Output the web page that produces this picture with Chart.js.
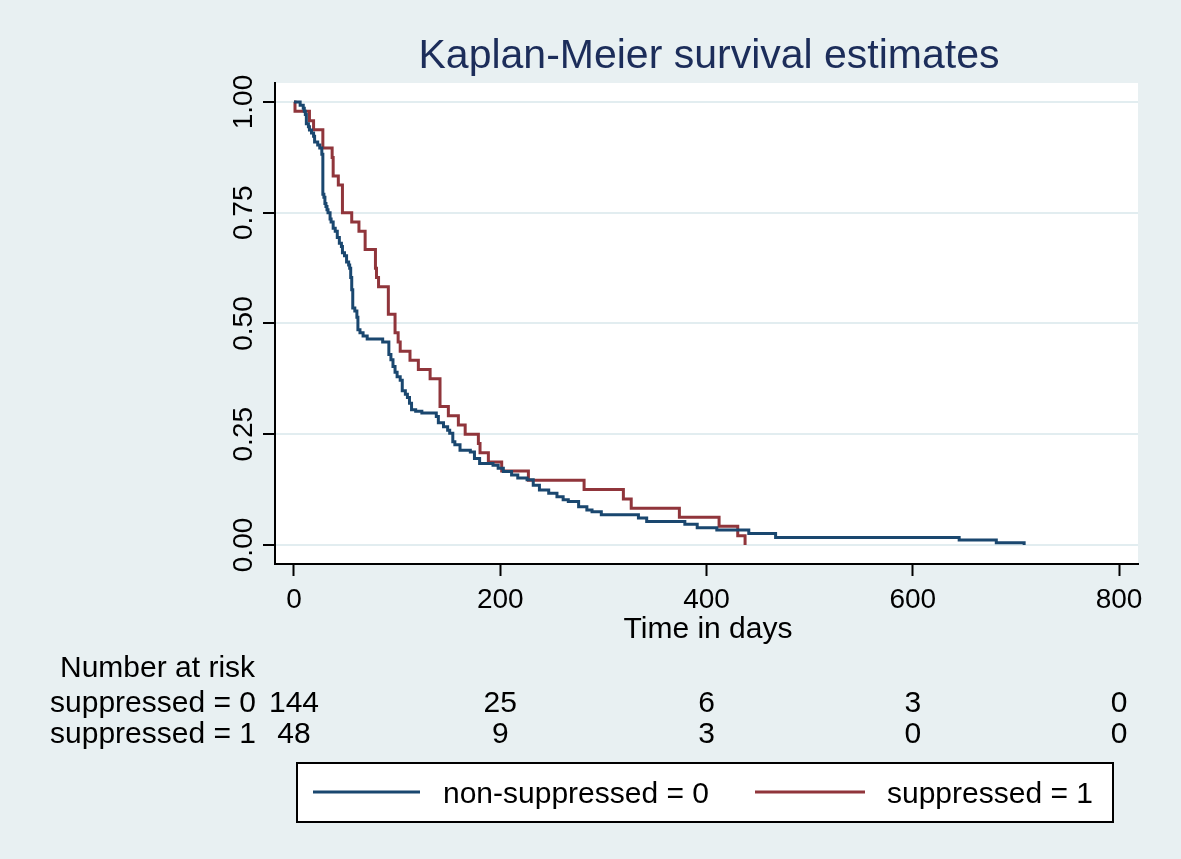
<!DOCTYPE html>
<html>
<head>
<meta charset="utf-8">
<script src="https://cdn.jsdelivr.net/npm/chart.js@4"></script>
<style>
  html, body { margin: 0; padding: 0; background: #e8f0f2; }
  #wrap { width: 1181px; height: 859px; }
</style>
</head>
<body>
<div id="wrap"><canvas id="km" width="1181" height="859"></canvas></div>
<script>
// Kaplan-Meier step points (time in days, survival)
const nonSuppTimes = [0, 6, 9, 10, 11, 12, 14, 15, 17, 19, 20, 23, 25, 27, 28, 29, 30, 31, 32, 33, 35, 36, 38, 40, 42, 44, 46, 47, 49, 51, 53, 54, 55, 56, 57, 59, 61, 62, 64, 67, 71, 86, 92, 94, 96, 98, 100, 103, 105, 108, 110, 112, 114, 118, 124, 138, 140, 145, 149, 151, 154, 156, 161, 171, 175, 180, 193, 198, 203, 211, 217, 226, 232, 238, 247, 255, 261, 266, 276, 284, 289, 298, 334, 342, 379, 391, 410, 441, 467, 645, 681, 708];
const nonSuppSurv  = [1.000, 0.993, 0.986, 0.979, 0.972, 0.951, 0.944, 0.937, 0.930, 0.923, 0.910, 0.903, 0.896, 0.882, 0.792, 0.785, 0.771, 0.764, 0.757, 0.750, 0.736, 0.729, 0.715, 0.708, 0.694, 0.681, 0.674, 0.660, 0.653, 0.639, 0.632, 0.625, 0.604, 0.576, 0.535, 0.528, 0.514, 0.486, 0.479, 0.472, 0.465, 0.458, 0.430, 0.418, 0.403, 0.390, 0.380, 0.372, 0.348, 0.340, 0.333, 0.320, 0.305, 0.302, 0.298, 0.290, 0.276, 0.267, 0.259, 0.252, 0.233, 0.226, 0.214, 0.210, 0.195, 0.184, 0.180, 0.173, 0.166, 0.158, 0.151, 0.147, 0.135, 0.124, 0.117, 0.109, 0.102, 0.098, 0.086, 0.079, 0.075, 0.068, 0.061, 0.053, 0.047, 0.039, 0.034, 0.026, 0.017, 0.011, 0.005, 0.000];

const suppTimes = [0, 1, 15, 19, 28, 37, 38, 43, 47, 56, 63, 69, 79, 80, 82, 91.5, 98, 101, 103, 112.5, 120.6, 132, 141.6, 149.7, 159.4, 166, 178.8, 180.4, 188.5, 201.4, 227.3, 281.3, 319.4, 327, 373.7, 412.2, 430.3, 437.4];
const suppSurv  = [1.000, 0.979, 0.958, 0.9375, 0.896, 0.875, 0.833, 0.8125, 0.750, 0.729, 0.708, 0.667, 0.625, 0.604, 0.583, 0.521, 0.479, 0.458, 0.4375, 0.417, 0.396, 0.375, 0.3125, 0.292, 0.271, 0.250, 0.229, 0.208, 0.1875, 0.167, 0.146, 0.125, 0.104, 0.083, 0.0625, 0.042, 0.021, 0.000];

const xTicks = [0, 200, 400, 600, 800];
const yTicks = [0, 0.25, 0.5, 0.75, 1];
const riskNonSupp = [144, 25, 6, 3, 0];
const riskSupp = [48, 9, 3, 0, 0];

const titleText = 'Kaplan-Meier survival estimates';
const xTitle = 'Time in days';
const rowLabels = ['suppressed = 0', 'suppressed = 1'];
const legendLabels = ['non-suppressed = 0', 'suppressed = 1'];

const blue = '#1a476f';
const red = '#90353b';
const fontFam = '"Liberation Sans", Arial, sans-serif';

function toPoints(ts, ss) {
    return ts.map((t, i) => ({ x: t, y: ss[i] }));
}

const kmDecor = {
    id: 'kmDecor',
    beforeDraw(chart) {
        const { ctx, chartArea: a } = chart;
        ctx.save();
        ctx.fillStyle = '#e8f0f2';
        ctx.fillRect(0, 0, chart.width, chart.height);
        ctx.fillStyle = '#ffffff';
        ctx.fillRect(a.left, a.top, a.right - a.left, a.bottom - a.top);
        ctx.restore();
    },
    afterDraw(chart) {
        const ctx = chart.ctx;
        const xs = chart.scales.x;
        const ys = chart.scales.y;
        ctx.save();

        // title
        ctx.fillStyle = '#1c2d5a';
        ctx.font = '41px ' + fontFam;
        ctx.textAlign = 'center';
        ctx.textBaseline = 'alphabetic';
        ctx.fillText(titleText, 709, 68);

        // y tick labels, rotated like Stata
        ctx.fillStyle = '#000';
        ctx.font = '28px ' + fontFam;
        yTicks.forEach(v => {
            ctx.save();
            ctx.translate(252, ys.getPixelForValue(v));
            ctx.rotate(-Math.PI / 2);
            ctx.fillText(v.toFixed(2), 0, 0);
            ctx.restore();
        });

        // x tick labels
        xTicks.forEach(v => {
            ctx.fillText(String(v), xs.getPixelForValue(v), 608);
        });

        // x axis title
        ctx.font = '30px ' + fontFam;
        ctx.fillText(xTitle, 708, 638);

        // number at risk table
        ctx.textAlign = 'left';
        ctx.fillText('Number at risk', 60, 677);
        ctx.textAlign = 'right';
        ctx.fillText(rowLabels[0], 256, 712);
        ctx.fillText(rowLabels[1], 256, 743);
        ctx.textAlign = 'center';
        xTicks.forEach((v, i) => {
            const px = xs.getPixelForValue(v);
            ctx.fillText(String(riskNonSupp[i]), px, 712);
            ctx.fillText(String(riskSupp[i]), px, 743);
        });

        // legend box
        ctx.fillStyle = '#fff';
        ctx.fillRect(297, 763, 816, 59);
        ctx.strokeStyle = '#000';
        ctx.lineWidth = 2;
        ctx.strokeRect(297, 763, 816, 59);

        ctx.lineWidth = 3;
        ctx.strokeStyle = blue;
        ctx.beginPath(); ctx.moveTo(313, 792); ctx.lineTo(420, 792); ctx.stroke();
        ctx.strokeStyle = red;
        ctx.beginPath(); ctx.moveTo(755, 792); ctx.lineTo(865, 792); ctx.stroke();

        ctx.fillStyle = '#000';
        ctx.textAlign = 'left';
        ctx.fillText(legendLabels[0], 443, 803);
        ctx.fillText(legendLabels[1], 887, 803);

        ctx.restore();
    }
};

const ctx = document.getElementById('km').getContext('2d');

const chart = new Chart(ctx, {
    type: 'line',
    data: {
        datasets: [
            {
                label: legendLabels[0],
                data: toPoints(nonSuppTimes, nonSuppSurv),
                borderColor: blue,
                borderWidth: 3,
                stepped: 'before',
                pointRadius: 0,
                fill: false
            },
            {
                label: legendLabels[1],
                data: toPoints(suppTimes, suppSurv),
                borderColor: red,
                borderWidth: 3,
                stepped: 'before',
                pointRadius: 0,
                fill: false
            }
        ]
    },
    options: {
        responsive: false,
        animation: false,
        devicePixelRatio: 1,
        layout: { padding: { left: 0, top: 83, right: 43, bottom: 0 } },
        plugins: {
            legend: { display: false },
            title: { display: false },
            tooltip: { enabled: false }
        },
        scales: {
            x: {
                type: 'linear',
                min: -18.4,
                max: 818.4,
                afterBuildTicks: s => { s.ticks = xTicks.map(v => ({ value: v })); },
                afterFit: s => { s.height = 295; },
                ticks: { display: false },
                grid: {
                    drawOnChartArea: false,
                    drawTicks: true,
                    tickLength: 12,
                    tickColor: '#000',
                    tickWidth: 2
                },
                border: { display: true, color: '#000', width: 2 }
            },
            y: {
                type: 'linear',
                min: -0.043,
                max: 1.043,
                afterBuildTicks: s => { s.ticks = yTicks.map(v => ({ value: v })); },
                afterFit: s => { s.width = 275; },
                ticks: { display: false },
                grid: {
                    color: '#e2edf0',
                    lineWidth: 2,
                    drawTicks: true,
                    tickLength: 12,
                    tickColor: '#000',
                    tickWidth: 2
                },
                border: { display: true, color: '#000', width: 2 }
            }
        }
    },
    plugins: [kmDecor]
});
</script>
</body>
</html>
